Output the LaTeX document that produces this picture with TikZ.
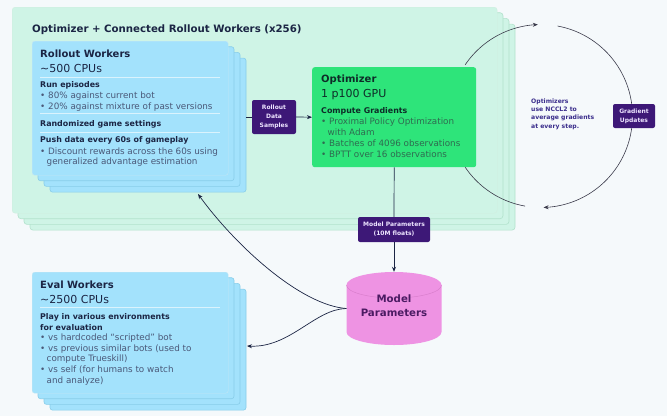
\documentclass[tikz,border=0pt]{standalone}
\usepackage{fontspec}
\setmainfont{DejaVu Sans}
\usetikzlibrary{arrows.meta,calc}
\definecolor{bg}{HTML}{F5F9FB}
\definecolor{gfill}{HTML}{CFF4E6}
\definecolor{gline}{HTML}{B2E2CC}
\definecolor{bfill}{HTML}{A3E2FC}
\definecolor{bline}{HTML}{88CDE9}
\definecolor{navy}{HTML}{1B2544}
\definecolor{slate}{HTML}{4A5878}
\definecolor{optg}{HTML}{2EE47A}
\definecolor{optdark}{HTML}{0E2C28}
\definecolor{optgray}{HTML}{2E6B50}
\definecolor{purp}{HTML}{3D1877}
\definecolor{lav}{HTML}{EDE4FF}
\definecolor{ncc}{HTML}{3B2E8C}
\definecolor{pinkc}{HTML}{EE93E3}
\definecolor{pinkl}{HTML}{D97FCD}
\definecolor{pinkt}{HTML}{4B1B63}
\definecolor{arcc}{HTML}{3A3A4A}
\tikzset{
  t/.style={anchor=base west, inner sep=0pt},
  hd/.style={t, font=\fontsize{10}{12}\selectfont\bfseries, text=navy},
  subt/.style={t, font=\fontsize{11}{13}\selectfont, text=navy},
  sh/.style={t, font=\fontsize{7.9}{9}\selectfont\bfseries, text=navy},
  bl/.style={t, font=\fontsize{8.8}{10}\selectfont, text=slate},
  glayer/.style={fill=gfill, draw=gline, line width=0.6pt, rounded corners=3pt},
  gtop/.style={fill=gfill, draw=gline!60, line width=0.4pt, rounded corners=3pt, inner sep=0pt},
  blayer/.style={fill=bfill, draw=bline, line width=0.6pt, rounded corners=2.5pt},
  btop/.style={fill=bfill, draw=bline!50, line width=0.4pt, rounded corners=2.5pt, inner sep=0pt},
  sepl/.style={draw=white, draw opacity=0.6, line width=0.5pt},
  opt/.style={fill=optg, rounded corners=2.5pt, inner sep=0pt},
  pbox/.style={fill=purp, rounded corners=2pt, text=lav, align=center, inner sep=0pt,
    font=\fontsize{6}{8.8}\selectfont\bfseries},
  conn/.style={draw=navy, line width=0.7pt},
  tip/.style={-{Stealth[length=5pt,width=4pt]}},
  arcl/.style={draw=arcc, line width=0.6pt},
}
\begin{document}
\begin{tikzpicture}[x=1pt,y=-1pt]
\useasboundingbox[fill=bg] (0,0) rectangle (667,416);

% ---- green container ----
\foreach \i in {3,2,1}
  \draw[glayer] (12+6*\i,7+5.7*\i) rectangle (497+6*\i,213+5.7*\i);
\node[gtop, anchor=north west, minimum width=485pt, minimum height=206pt] (cont) at (12,7) {};
\node[hd, font=\fontsize{10.2}{12}\selectfont\bfseries] (ctitle) at (32,32) {Optimizer + Connected Rollout Workers (x256)};

% ---- rollout workers ----
\foreach \i in {3,2,1}
  \draw[blayer] (32+6*\i,41+5.7*\i) rectangle (228+6*\i,175+5.7*\i);
\node[btop, anchor=north west, minimum width=196pt, minimum height=134pt] (rollout) at (32,41) {};
\node[hd] (rw1) at (40,57.5) {Rollout Workers};
\node[subt] (rw2) at (40,72) {\textasciitilde500 CPUs};
\draw[sepl] (40,77) -- (220,77);
\node[sh] (rw3) at (40,87) {Run episodes};
\node[bl] (rw4) at (40,98) {• 80\% against current bot};
\node[bl] (rw5) at (40,109) {• 20\% against mixture of past versions};
\draw[sepl] (40,113) -- (220,113);
\node[sh] (rw6) at (40,126) {Randomized game settings};
\draw[sepl] (40,132) -- (220,132);
\node[sh] (rw7) at (40,142) {Push data every 60s of gameplay};
\node[bl] (rw8) at (40,154) {• Discount rewards across the 60s using};
\node[bl] (rw9) at (46.5,164.5) {generalized advantage estimation};

% ---- optimizer ----
\node[opt, anchor=north west, minimum width=164pt, minimum height=100pt] (optim) at (312,67) {};
\node[hd, text=optdark] (op1) at (321,82.5) {Optimizer};
\node[subt, text=optdark] (op2) at (321,97) {1 p100 GPU};
\node[sh, text=optdark] (op3) at (321,113) {Compute Gradients};
\node[bl, text=optgray] (op4) at (321,124) {• Proximal Policy Optimization};
\node[bl, text=optgray] (op5) at (327.5,135) {with Adam};
\node[bl, text=optgray] (op6) at (321,146) {• Batches of 4096 observations};
\node[bl, text=optgray] (op7) at (321,157) {• BPTT over 16 observations};

% ---- rollout data samples ----
\node[pbox, minimum width=44pt, minimum height=34pt] (rds) at (274,117) {Rollout\\Data\\Samples};
\coordinate (rsrc) at (246,117);
\draw[conn] (rsrc) -- (rds.west);
\draw[conn,tip] (rds.east) -- (optim.west);

% ---- gradient circle ----
\draw[arcl,tip] plot[domain=0:1, samples=40] ({541+91.5*cos(146-54*\x)},{116-91.5*sin(146-54*\x)});
\draw[arcl,tip] plot[domain=0:1, samples=80] ({541+91.5*cos(79.5-168*\x)},{116-91.5*sin(79.5-168*\x)});
\draw[arcl] plot[domain=0:1, samples=30] ({541+91.5*cos(-100-46*\x)},{116-91.5*sin(-100-46*\x)});
\node[pbox, minimum width=42pt, minimum height=24pt] (gu) at (634,116) {Gradient\\Updates};
\node[anchor=north west, inner sep=0pt, align=left, text=ncc, font=\fontsize{6.1}{8.3}\selectfont\bfseries] (nccl) at (531,98.5) {Optimizers\\use NCCL2 to\\average gradients\\at every step.};

% ---- eval workers ----
\foreach \i in {3,2,1}
  \draw[blayer] (32+6*\i,272+5.7*\i) rectangle (228+6*\i,393+5.7*\i);
\node[btop, anchor=north west, minimum width=196pt, minimum height=121pt] (eval) at (32,272) {};
\node[hd] (ev1) at (40,288.5) {Eval Workers};
\node[subt] (ev2) at (40,303) {\textasciitilde2500 CPUs};
\draw[sepl] (40,307) -- (220,307);
\node[sh] (ev3) at (40,319) {Play in various environments};
\node[sh] (ev4) at (40,330) {for evaluation};
\node[bl] (ev5) at (40,340.5) {• vs hardcoded ``scripted'' bot};
\node[bl] (ev6) at (40,351) {• vs previous similar bots (used to};
\node[bl] (ev7) at (46.5,361.5) {compute Trueskill)};
\node[bl] (ev8) at (40,372.5) {• vs self (for humans to watch};
\node[bl] (ev9) at (46.5,383) {and analyze)};

% ---- model parameters ----
\node[pbox, minimum width=72pt, minimum height=25pt] (mpb) at (394,229.5) {Model Parameters\\(10M floats)};
\fill[pinkc] (346.5,285) -- (346.5,332) .. controls (346.5,339.2) and (367.8,345) .. (394,345)
  .. controls (420.2,345) and (441.5,339.2) .. (441.5,332) -- (441.5,285) -- cycle;
\fill[pinkc] (394,285) ellipse [x radius=47.5pt, y radius=13pt];
\draw[pinkl, line width=0.5pt] (346.5,285) .. controls (346.5,292.2) and (367.8,298) .. (394,298)
  .. controls (420.2,298) and (441.5,292.2) .. (441.5,285);
\node[minimum width=95pt, minimum height=73pt, inner sep=0pt] (cyl) at (394,308.5) {};
\node[align=center, inner sep=0pt, text=pinkt, font=\fontsize{10.2}{14}\selectfont\bfseries, anchor=base] (cylt) at (394,316) {Model\\Parameters};

\draw[conn] (optim.south) -- (mpb.north);
\draw[conn,tip] (mpb.south) -- (cyl.north);

\coordinate (rtarget) at (198,194);
\coordinate (etarget) at (247,346);
\draw[conn,tip] (cyl.west) .. controls (300,305) and (235,245) .. (rtarget);
\draw[conn,tip] (cyl.west) .. controls (315,309) and (290,348) .. (etarget);
\end{tikzpicture}
\end{document}
